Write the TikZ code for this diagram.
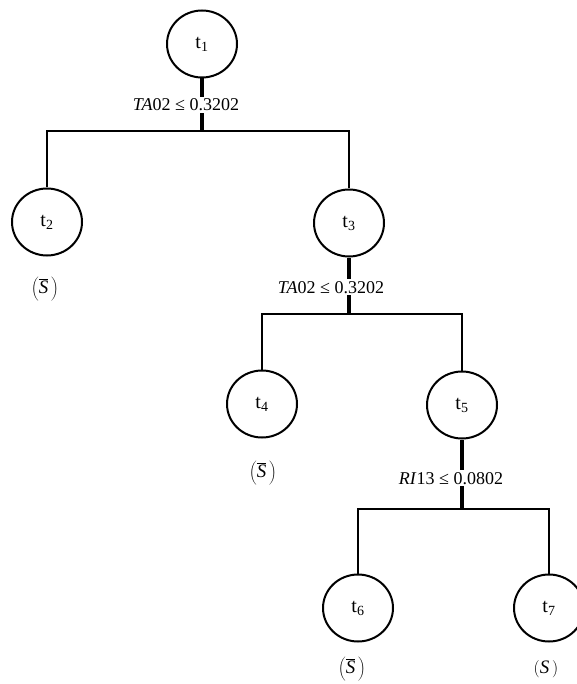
\documentclass[tikz,border=0pt]{standalone}
\usepackage{fontspec}
\setmainfont{Liberation Serif}
\usetikzlibrary{shapes.geometric}
\begin{document}
\begin{tikzpicture}[x=1pt,y=-1pt,
  tnode/.style={draw,ellipse,line width=2pt,minimum width=70pt,minimum height=67pt,inner sep=0pt,font=\fontsize{20}{22}\selectfont},
  stem/.style={line width=3.2pt},
  branch/.style={line width=1.9pt},
  cond/.style={fill=white,inner sep=2pt,anchor=base,font=\fontsize{18}{20}\selectfont},
  leaf/.style={font=\fontsize{19}{21}\selectfont}]
\useasboundingbox (0,0) rectangle (577,684);
\node[tnode] (t1) at (202,44) {t\textsubscript{1}};
\node[tnode] (t2) at (47,222) {t\textsubscript{2}};
\node[tnode] (t3) at (349,223) {t\textsubscript{3}};
\node[tnode] (t4) at (262,404) {t\textsubscript{4}};
\node[tnode] (t5) at (462,405) {t\textsubscript{5}};
\node[tnode] (t6) at (358,608) {t\textsubscript{6}};
\node[tnode] (t7) at (549,608) {t\textsubscript{7}};
\coordinate (j1) at (202,131);
\coordinate (j3) at (349,314);
\coordinate (j5) at (462,509);
\draw[stem] (t1.south) -- (j1);
\draw[branch] (t2.north) |- (j1) -| (t3.north);
\draw[stem] (t3.south) -- (j3);
\draw[branch] (t4.north) |- (j3) -| (t5.north);
\draw[stem] (t5.south) -- (j5);
\draw[branch] (t6.north) |- (j5) -| (t7.north);
\node[cond] (c1) at (186,111) {\textit{TA}02 ≤ 0.3202};
\node[cond] (c3) at (331,293) {\textit{TA}02 ≤ 0.3202};
\node[cond] (c5) at (451,484) {\textit{RI}13 ≤ 0.0802};
\node[leaf] (l2) at (45,289) {$\left(\overline{\mbox{\textit{S}}}\,\right)$};
\node[leaf] (l4) at (263,473) {$\left(\overline{\mbox{\textit{S}}}\,\right)$};
\node[leaf] (l6) at (352,669) {$\left(\overline{\mbox{\textit{S}}}\,\right)$};
\node[leaf] (l7) at (546,669) {$\left(\mbox{\textit{S}}\,\right)$};
\end{tikzpicture}
\end{document}
